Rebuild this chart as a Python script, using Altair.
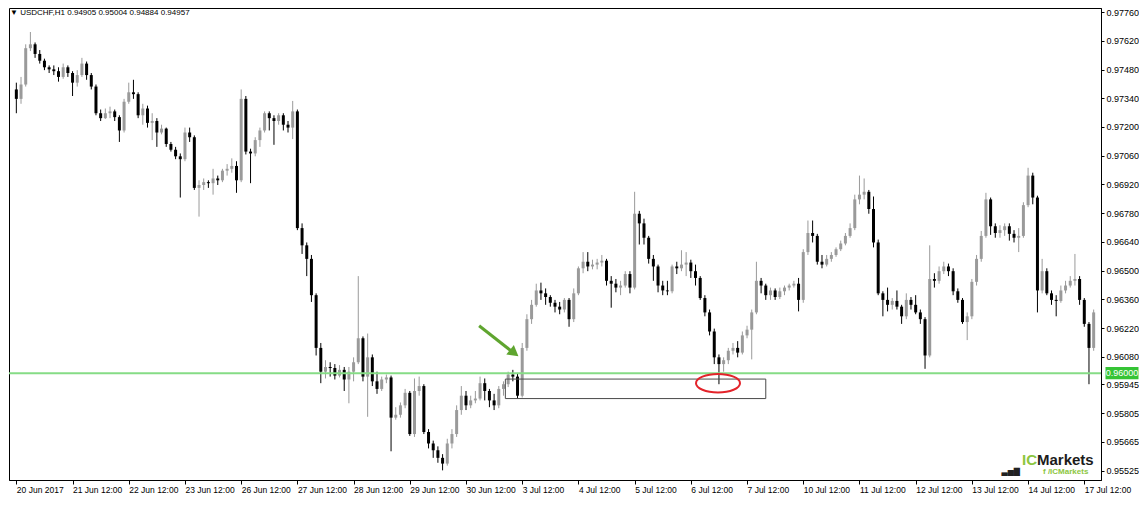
import altair as alt
import pandas as pd

# ---------------- data (2-hour bars) ----------------
first_open = 0.97383
close = [0.97337, 0.97407, 0.97584, 0.97603, 0.97556, 0.97523, 0.97491, 0.97481, 0.97472, 0.97444,
         0.97491, 0.97463, 0.97416, 0.97453, 0.97509, 0.97453, 0.97397, 0.97267, 0.97243, 0.97267,
         0.97276, 0.97248, 0.97183, 0.97323, 0.97369, 0.97360, 0.97257, 0.97290, 0.97220, 0.97229,
         0.97173, 0.97192, 0.97117, 0.97089, 0.97057, 0.97043, 0.97173, 0.97150, 0.96903, 0.96917,
         0.96931, 0.96926, 0.96949, 0.96940, 0.96987, 0.96996, 0.97010, 0.96940, 0.97337, 0.97080,
         0.97071, 0.97136, 0.97183, 0.97267, 0.97243, 0.97229, 0.97257, 0.97211, 0.97197, 0.97276,
         0.96707, 0.96623, 0.96557, 0.96380, 0.96123, 0.96007, 0.96030, 0.96025, 0.95988, 0.96016,
         0.95969, 0.96007, 0.96053, 0.96170, 0.95983, 0.96077, 0.95960, 0.95923, 0.95969, 0.95979,
         0.95783, 0.95797, 0.95843, 0.95904, 0.95703, 0.95913, 0.95937, 0.95713, 0.95657, 0.95624,
         0.95587, 0.95559, 0.95657, 0.95703, 0.95820, 0.95890, 0.95843, 0.95867, 0.95876, 0.95951,
         0.95913, 0.95867, 0.95843, 0.95923, 0.95946, 0.95993, 0.95983, 0.95890, 0.96123, 0.96263,
         0.96333, 0.96403, 0.96389, 0.96371, 0.96343, 0.96324, 0.96310, 0.96357, 0.96263, 0.96389,
         0.96511, 0.96543, 0.96520, 0.96529, 0.96539, 0.96548, 0.96450, 0.96436, 0.96417, 0.96427,
         0.96483, 0.96417, 0.96777, 0.96730, 0.96660, 0.96557, 0.96520, 0.96427, 0.96403, 0.96399,
         0.96520, 0.96511, 0.96529, 0.96539, 0.96497, 0.96464, 0.96366, 0.96296, 0.96203, 0.96077,
         0.96044, 0.96063, 0.96109, 0.96123, 0.96100, 0.96184, 0.96212, 0.96296, 0.96450, 0.96427,
         0.96380, 0.96403, 0.96371, 0.96399, 0.96417, 0.96427, 0.96436, 0.96357, 0.96590, 0.96683,
         0.96669, 0.96543, 0.96529, 0.96557, 0.96576, 0.96604, 0.96632, 0.96669, 0.96707, 0.96847,
         0.96870, 0.96884, 0.96800, 0.96637, 0.96389, 0.96357, 0.96333, 0.96352, 0.96324, 0.96277,
         0.96357, 0.96333, 0.96296, 0.96263, 0.96086, 0.96459, 0.96450, 0.96497, 0.96520, 0.96497,
         0.96399, 0.96357, 0.96249, 0.96277, 0.96445, 0.96557, 0.96669, 0.96847, 0.96716, 0.96683,
         0.96697, 0.96716, 0.96679, 0.96660, 0.96669, 0.96819, 0.96963, 0.96856, 0.96403, 0.96497,
         0.96389, 0.96357, 0.96352, 0.96403, 0.96427, 0.96450, 0.96459, 0.96357, 0.96240, 0.96123,
         0.96296]
high = [0.97416, 0.97444, 0.97603, 0.97663, 0.97612, 0.97575, 0.97533, 0.97500, 0.97500, 0.97491,
        0.97509, 0.97500, 0.97472, 0.97477, 0.97537, 0.97519, 0.97463, 0.97407, 0.97285, 0.97290,
        0.97299, 0.97285, 0.97257, 0.97337, 0.97416, 0.97430, 0.97369, 0.97313, 0.97304, 0.97267,
        0.97243, 0.97211, 0.97197, 0.97127, 0.97103, 0.97071, 0.97197, 0.97197, 0.97159, 0.96940,
        0.96949, 0.96940, 0.96996, 0.96963, 0.96996, 0.97019, 0.97047, 0.97033, 0.97383, 0.97351,
        0.97094, 0.97150, 0.97197, 0.97276, 0.97276, 0.97257, 0.97267, 0.97267, 0.97229, 0.97327,
        0.97285, 0.96730, 0.96637, 0.96576, 0.96389, 0.96147, 0.96063, 0.96053, 0.96044, 0.96039,
        0.96030, 0.96030, 0.96077, 0.96473, 0.96179, 0.96193, 0.96091, 0.96007, 0.95983, 0.95993,
        0.95988, 0.95834, 0.95857, 0.95923, 0.95913, 0.95974, 0.95983, 0.95946, 0.95727, 0.95671,
        0.95643, 0.95605, 0.95680, 0.95727, 0.95843, 0.95937, 0.95913, 0.95890, 0.95913, 0.95983,
        0.95974, 0.95923, 0.95899, 0.95937, 0.95960, 0.96007, 0.96016, 0.95997, 0.96147, 0.96287,
        0.96357, 0.96436, 0.96441, 0.96413, 0.96380, 0.96357, 0.96347, 0.96366, 0.96366, 0.96413,
        0.96520, 0.96590, 0.96590, 0.96553, 0.96557, 0.96576, 0.96557, 0.96473, 0.96459, 0.96450,
        0.96497, 0.96497, 0.96884, 0.96791, 0.96753, 0.96669, 0.96576, 0.96529, 0.96450, 0.96450,
        0.96529, 0.96543, 0.96599, 0.96590, 0.96553, 0.96529, 0.96473, 0.96380, 0.96310, 0.96217,
        0.96091, 0.96077, 0.96123, 0.96147, 0.96156, 0.96203, 0.96231, 0.96310, 0.96543, 0.96464,
        0.96436, 0.96417, 0.96413, 0.96417, 0.96427, 0.96436, 0.96450, 0.96464, 0.96604, 0.96744,
        0.96744, 0.96679, 0.96576, 0.96576, 0.96590, 0.96613, 0.96646, 0.96683, 0.96730, 0.96870,
        0.96963, 0.96949, 0.96893, 0.96861, 0.96651, 0.96399, 0.96417, 0.96366, 0.96403, 0.96333,
        0.96389, 0.96371, 0.96380, 0.96310, 0.96273, 0.96623, 0.96487, 0.96520, 0.96543, 0.96534,
        0.96511, 0.96413, 0.96366, 0.96296, 0.96459, 0.96576, 0.96693, 0.96879, 0.96856, 0.96730,
        0.96721, 0.96730, 0.96730, 0.96697, 0.96707, 0.96833, 0.97001, 0.96977, 0.96865, 0.96557,
        0.96511, 0.96403, 0.96380, 0.96427, 0.96450, 0.96473, 0.96581, 0.96473, 0.96366, 0.96249,
        0.96310]
low = [0.97267, 0.97313, 0.97397, 0.97570, 0.97537, 0.97509, 0.97477, 0.97463, 0.97453, 0.97421,
       0.97435, 0.97444, 0.97351, 0.97397, 0.97444, 0.97430, 0.97383, 0.97257, 0.97229, 0.97239,
       0.97243, 0.97229, 0.97127, 0.97173, 0.97313, 0.97337, 0.97243, 0.97211, 0.97197, 0.97136,
       0.97103, 0.97164, 0.97103, 0.97080, 0.97043, 0.96856, 0.97033, 0.97127, 0.96893, 0.96763,
       0.96893, 0.96903, 0.96870, 0.96917, 0.96931, 0.96963, 0.96977, 0.96879, 0.96931, 0.97066,
       0.96926, 0.97057, 0.97103, 0.97173, 0.97183, 0.97113, 0.97211, 0.97183, 0.97173, 0.97141,
       0.96697, 0.96581, 0.96473, 0.96347, 0.96086, 0.95951, 0.95974, 0.95983, 0.95969, 0.95979,
       0.95913, 0.95853, 0.95960, 0.96044, 0.95960, 0.95787, 0.95937, 0.95899, 0.95913, 0.95951,
       0.95619, 0.95773, 0.95783, 0.95829, 0.95694, 0.95689, 0.95890, 0.95703, 0.95633, 0.95587,
       0.95563, 0.95526, 0.95549, 0.95633, 0.95689, 0.95797, 0.95820, 0.95829, 0.95853, 0.95867,
       0.95867, 0.95834, 0.95820, 0.95829, 0.95890, 0.95932, 0.95960, 0.95876, 0.95881, 0.96109,
       0.96240, 0.96324, 0.96357, 0.96333, 0.96324, 0.96296, 0.96287, 0.96296, 0.96226, 0.96249,
       0.96380, 0.96487, 0.96497, 0.96506, 0.96506, 0.96520, 0.96427, 0.96319, 0.96394, 0.96380,
       0.96417, 0.96389, 0.96408, 0.96627, 0.96627, 0.96534, 0.96450, 0.96394, 0.96380, 0.96380,
       0.96389, 0.96483, 0.96497, 0.96473, 0.96464, 0.96427, 0.96357, 0.96277, 0.96184, 0.96044,
       0.95946, 0.96007, 0.96044, 0.96091, 0.96077, 0.96091, 0.96170, 0.96067, 0.96287, 0.96389,
       0.96357, 0.96357, 0.96357, 0.96361, 0.96380, 0.96403, 0.96417, 0.96301, 0.96343, 0.96576,
       0.96637, 0.96529, 0.96511, 0.96520, 0.96543, 0.96567, 0.96595, 0.96623, 0.96660, 0.96697,
       0.96823, 0.96847, 0.96777, 0.96613, 0.96380, 0.96277, 0.96301, 0.96310, 0.96310, 0.96240,
       0.96263, 0.96310, 0.96287, 0.96240, 0.96021, 0.96077, 0.96417, 0.96436, 0.96483, 0.96473,
       0.96380, 0.96343, 0.96240, 0.96161, 0.96263, 0.96427, 0.96543, 0.96660, 0.96674, 0.96660,
       0.96660, 0.96669, 0.96646, 0.96637, 0.96590, 0.96660, 0.96809, 0.96823, 0.96296, 0.96389,
       0.96380, 0.96333, 0.96277, 0.96343, 0.96389, 0.96417, 0.96427, 0.96333, 0.96226, 0.95946,
       0.96109]

day_labels = ["20 Jun 2017", "21 Jun 12:00", "22 Jun 12:00", "23 Jun 12:00", "26 Jun 12:00",
              "27 Jun 12:00", "28 Jun 12:00", "29 Jun 12:00", "30 Jun 12:00", "3 Jul 12:00",
              "4 Jul 12:00", "5 Jul 12:00", "6 Jul 12:00", "7 Jul 12:00", "10 Jul 12:00",
              "11 Jul 12:00", "12 Jul 12:00", "13 Jul 12:00", "14 Jul 12:00", "17 Jul 12:00"]
bars_per_day = 12
price_ticks = [0.97760, 0.97620, 0.97480, 0.97340, 0.97200, 0.97060, 0.96920, 0.96780,
               0.96640, 0.96500, 0.96360, 0.96220, 0.96080, 0.95945, 0.95805, 0.95665, 0.95525]
price_range = [0.95479, 0.97780]

level = [0.96000]
zone_x, zone_x2 = [104.4], [160.0]
zone_top, zone_bottom = [0.95971], [0.95876]
circle_x, circle_y = [149.8], [0.95951]
arrow_x, arrow_y = [98.8], [0.96231]
arrow_x2, arrow_y2 = [105.6], [0.96109]
head_x, head_y = [106.3], [0.96098]
header = ["\u25bc USDCHF,H1  0.94905 0.95004 0.94884 0.94957"]

# ---------------- tables ----------------
n = len(close)
opens = [first_open] + close[:-1]
df = pd.DataFrame({"i": list(range(n)), "open": opens, "close": close, "high": high, "low": low})
df["dir"] = ["up" if c >= o else "down" for o, c in zip(opens, close)]

W, H = 1092, 472
FONT = "Liberation Sans"
xscale = alt.Scale(domain=[-0.5, n - 0.5], nice=False, zero=False)
yscale = alt.Scale(domain=price_range, nice=False, zero=False)
label_expr = "[" + ",".join("'" + s + "'" for s in day_labels) + "][round(datum.value/%d)]" % bars_per_day

xaxis = alt.Axis(values=[k * bars_per_day for k in range(len(day_labels))], labelExpr=label_expr,
                 labelAlign="left", labelFont=FONT, labelFontSize=8.5, labelColor="#000",
                 tickSize=4, tickColor="#000", domainColor="#000", labelPadding=1,
                 labelOverlap=False, grid=False, title=None, labelFlush=False)
yaxis = alt.Axis(orient="right", values=price_ticks, format=".5f", labelFont=FONT,
                 labelFontSize=9, labelColor="#000", tickSize=3, tickColor="#000",
                 domainColor="#000", labelPadding=2, grid=False, title=None, labelOverlap=False)


def X(field):
    return alt.X(field, scale=xscale, axis=xaxis, title=None)


def Y(field):
    return alt.Y(field, scale=yscale, axis=yaxis, title=None)


color = alt.Color("dir:N", scale=alt.Scale(domain=["up", "down"], range=["#9a9a9a", "#000000"]),
                  legend=None)

wicks = alt.Chart(df).mark_rule(strokeWidth=1).encode(
    x=X("i:Q"), y=Y("low:Q"), y2="high:Q", color=color)
bodies = alt.Chart(df).mark_bar(size=3).encode(
    x=X("i:Q"), y=Y("open:Q"), y2="close:Q", color=color)

lvl_df = pd.DataFrame({"level": level, "txt": ["%.5f" % v for v in level]})
level_line = alt.Chart(lvl_df).mark_rule(color="#86dc86", strokeWidth=2).encode(y=Y("level:Q"))
level_box = alt.Chart(lvl_df).mark_point(
    shape="M-1,-0.37L1,-0.37L1,0.37L-1,0.37Z", size=1089, filled=True, color="#35c435",
    opacity=1).encode(x=alt.value(W + 21), y=Y("level:Q"))
level_txt = alt.Chart(lvl_df).mark_text(color="white", font=FONT, fontSize=9, align="center",
                                        baseline="middle").encode(
    x=alt.value(W + 21), y=Y("level:Q"), text="txt:N")

zone_df = pd.DataFrame({"x": zone_x, "x2": zone_x2, "t": zone_top, "b": zone_bottom})
zone = alt.Chart(zone_df).mark_rect(fillOpacity=0, stroke="#4a4a4a", strokeWidth=1).encode(
    x=X("x:Q"), x2="x2:Q", y=Y("t:Q"), y2="b:Q")

circ_df = pd.DataFrame({"x": circle_x, "y": circle_y})
ellipse = alt.Chart(circ_df).mark_point(
    shape="M -1 0 A 1 0.42 0 1 0 1 0 A 1 0.42 0 1 0 -1 0 Z", size=1936, filled=False,
    stroke="#e3232a", strokeWidth=2, opacity=1).encode(x=X("x:Q"), y=Y("y:Q"))

arr_df = pd.DataFrame({"x": arrow_x, "y": arrow_y, "x2": arrow_x2, "y2": arrow_y2,
                       "hx": head_x, "hy": head_y})
shaft = alt.Chart(arr_df).mark_rule(color="#5fa52f", strokeWidth=3).encode(
    x=X("x:Q"), x2="x2:Q", y=Y("y:Q"), y2="y2:Q")
head = alt.Chart(arr_df).mark_point(shape="triangle-up", angle=128, size=150, filled=True,
                                     color="#5fa52f", opacity=1).encode(x=X("hx:Q"), y=Y("hy:Q"))

hdr = alt.Chart(pd.DataFrame({"t": header})).mark_text(
    font=FONT, fontSize=8, color="#000", align="left", baseline="top").encode(
    x=alt.value(1), y=alt.value(1), text="t:N")

ic_x = W - 79
logo_df = pd.DataFrame({"a": ["\u2583\u2585\u2587"], "b": ["IC"], "c": ["Markets"],
                        "d": ["f /ICMarkets"]})
logo_icon = alt.Chart(logo_df).mark_text(font="DejaVu Sans", fontSize=8, color="#222",
                                         align="right", baseline="alphabetic").encode(
    x=alt.value(ic_x - 2), y=alt.value(H - 6), text="a:N")
logo_ic = alt.Chart(logo_df).mark_text(font=FONT, fontSize=15, fontWeight="bold", color="#8cc63e",
                                       align="left", baseline="alphabetic").encode(
    x=alt.value(ic_x), y=alt.value(H - 15), text="b:N")
logo_mk = alt.Chart(logo_df).mark_text(font=FONT, fontSize=15, fontWeight="bold", color="#1c1c1c",
                                       align="left", baseline="alphabetic").encode(
    x=alt.value(ic_x + 15), y=alt.value(H - 15), text="c:N")
logo_fb = alt.Chart(logo_df).mark_text(font=FONT, fontSize=8, fontWeight="bold", color="#8cc63e",
                                       align="left", baseline="alphabetic").encode(
    x=alt.value(ic_x + 21), y=alt.value(H - 6), text="d:N")

chart = alt.layer(
    wicks, bodies, level_line, zone, ellipse, shaft, head, level_box, level_txt,
    hdr, logo_icon, logo_ic, logo_mk, logo_fb,
).properties(width=W, height=H, padding=0, background="white").configure_view(
    stroke="#000", strokeWidth=1)

chart.save("out.html", embed_options={"renderer": "svg", "actions": False})
